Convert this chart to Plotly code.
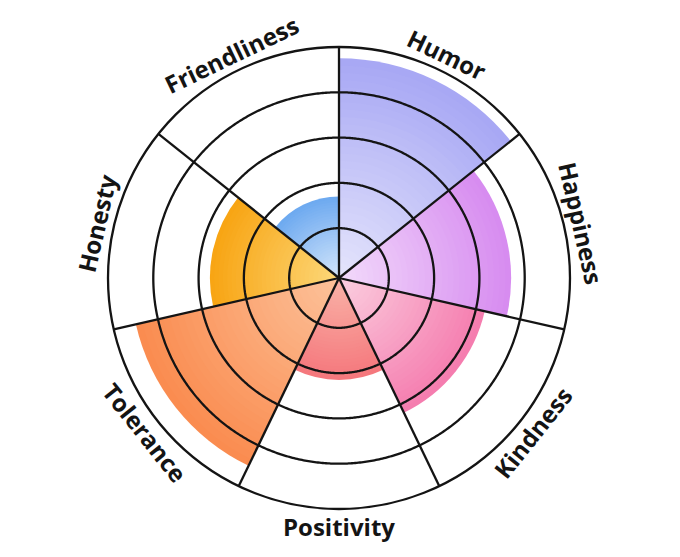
import numpy as np
import plotly.graph_objects as go

# ---- data ----
categories = ["Humor", "Happiness", "Kindness", "Positivity", "Tolerance", "Honesty", "Friendliness"]
values = [4.75, 3.7, 3.2, 2.15, 4.5, 2.75, 1.7]
ring_ticks = [1, 2, 3, 4, 5]
outer_colors = ["#A8A8F4", "#D78CF0", "#F57DAF", "#F5787D", "#FA8C50", "#F8A514", "#6EAAF0"]
inner_colors = ["#E6E6FC", "#F3DCFB", "#FBD0E0", "#F9B4A8", "#FCC39C", "#FCD97C", "#D6E7FB"]

# ---- layout helpers ----
N = len(categories)
step = 360.0 / N
centers = [(i + 0.5) * step for i in range(N)]
bounds = [i * step for i in range(N)]
R0 = -0.1
RMAX = 5
CX, CY, RAD = 339, 279, 231  # px; CY from bottom
W, H = 680, 557


def hex2rgb(h):
    h = h.lstrip("#")
    return np.array([int(h[i:i + 2], 16) for i in (0, 2, 4)], dtype=float)


def mix(c1, c2, t):
    c = hex2rgb(c1) * (1 - t) + hex2rgb(c2) * t
    return "rgb(%d,%d,%d)" % tuple(np.round(c).astype(int))


fig = go.Figure()

K = 30
for k in range(K, 0, -1):
    f = k / K
    fig.add_trace(go.Barpolar(
        r=[v * f - R0 * f for v in values],
        base=R0,
        theta=centers,
        width=[step] * N,
        marker=dict(color=[mix(inner_colors[i], outer_colors[i], f) for i in range(N)],
                    line=dict(width=0)),
        hoverinfo="skip",
    ))

# grid rings on top
th = np.linspace(0, 360, 721)
for t in ring_ticks[:-1]:
    fig.add_trace(go.Scatterpolar(r=[t] * len(th), theta=th, mode="lines",
                                  line=dict(color="#141414", width=2.3), hoverinfo="skip"))
# spokes
sr, st = [], []
for b in bounds:
    sr += [R0, RMAX, None]
    st += [b, b, None]
fig.add_trace(go.Scatterpolar(r=sr, theta=st, mode="lines",
                              line=dict(color="#141414", width=2.3), hoverinfo="skip"))

# labels
annotations = []
LR = 248
for i, name in enumerate(categories):
    a = centers[i]
    rad = np.deg2rad(a)
    x = (CX + LR * np.sin(rad)) / W
    y = (CY + LR * np.cos(rad)) / H
    if 90 < a < 270:
        rot = a - 180
    elif a >= 270:
        rot = a - 360
    else:
        rot = a
    annotations.append(dict(x=x, y=y, xref="paper", yref="paper", text=name, showarrow=False,
                            textangle=rot, xanchor="center", yanchor="middle",
                            font=dict(family="Open Sans", size=24, color="#141414", weight="bold")))

fig.update_layout(
    width=W, height=H,
    margin=dict(l=0, r=0, t=0, b=0),
    paper_bgcolor="white",
    showlegend=False,
    hovermode=False,
    annotations=annotations,
    polar=dict(
        domain=dict(x=[(CX - RAD) / W, (CX + RAD) / W], y=[(CY - RAD) / H, (CY + RAD) / H]),
        bgcolor="white",
        barmode="overlay",
        radialaxis=dict(range=[R0, RMAX], showgrid=False, showticklabels=False, ticks="",
                        showline=False),
        angularaxis=dict(direction="clockwise", rotation=90, tickmode="array", tickvals=bounds,
                         showticklabels=False, ticks="", showgrid=False, showline=True,
                         linecolor="#141414", linewidth=2.3),
    ),
)

fig.write_html("out.html", config={"displayModeBar": False},
               post_script="document.body.style.margin='0';")
